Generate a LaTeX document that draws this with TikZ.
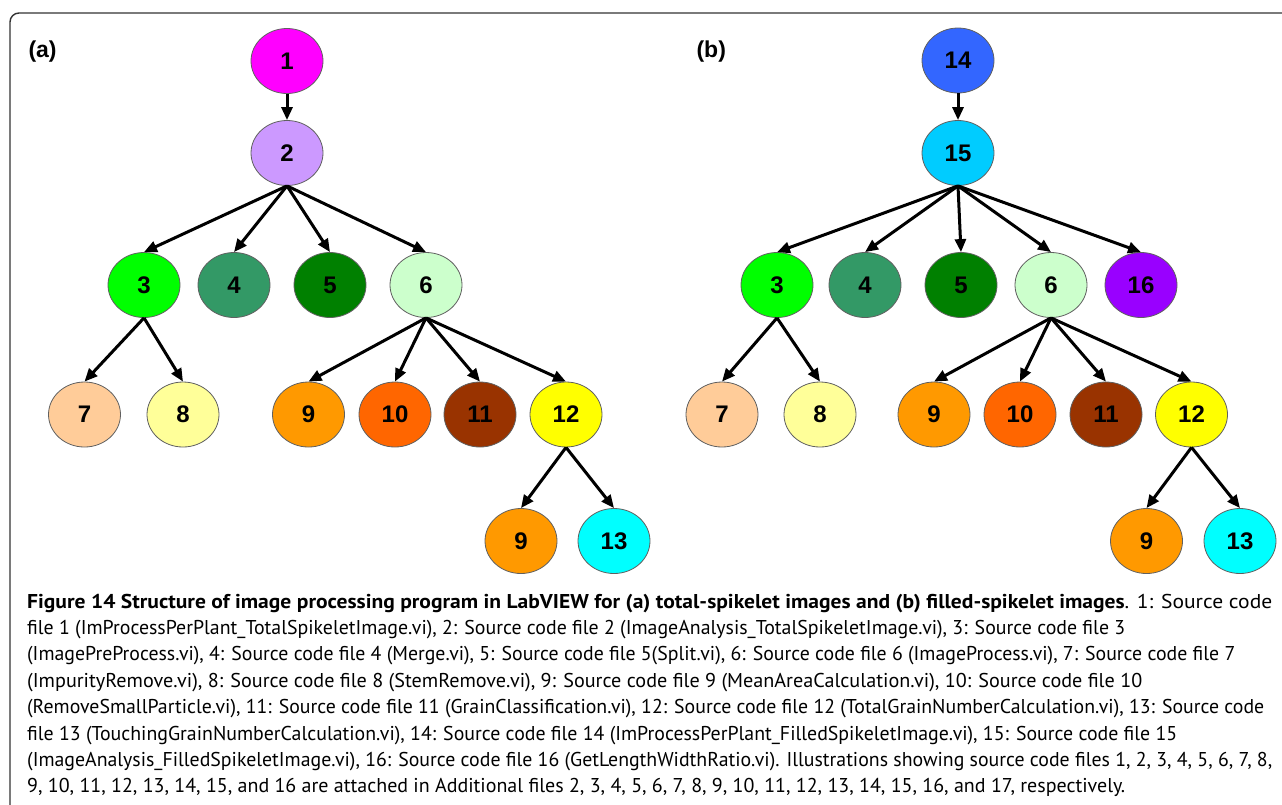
\documentclass[tikz,border=0pt]{standalone}
\usepackage{graphicx}
\usepackage{fontspec}
\setmainfont{Liberation Sans}
\newfontfamily\capfont{PT Sans}
\usetikzlibrary{arrows.meta,shapes.geometric}
\definecolor{c1}{HTML}{FF00FF}
\definecolor{c2}{HTML}{CC99FF}
\definecolor{c3}{HTML}{00FF00}
\definecolor{c4}{HTML}{339966}
\definecolor{c5}{HTML}{008000}
\definecolor{c6}{HTML}{CCFFCC}
\definecolor{c7}{HTML}{FFCC99}
\definecolor{c8}{HTML}{FFFF99}
\definecolor{c9}{HTML}{FF9900}
\definecolor{c10}{HTML}{FF6600}
\definecolor{c11}{HTML}{993300}
\definecolor{c12}{HTML}{FFFF00}
\definecolor{c13}{HTML}{00FFFF}
\definecolor{c14}{HTML}{3366FF}
\definecolor{c15}{HTML}{00CCFF}
\definecolor{c16}{HTML}{9900FF}
\definecolor{framegray}{HTML}{333333}
\definecolor{nodeedge}{HTML}{606060}
\newcommand{\capfit}[2]{\resizebox{#1pt}{\height}{#2}}
\begin{document}
\begin{tikzpicture}[x=1pt,y=-1pt,
  bubble/.style={ellipse,draw=nodeedge,line width=0.8pt,minimum width=72pt,minimum height=65pt,inner sep=0pt,
    font=\fontsize{24}{24}\selectfont\bfseries},
  link/.style={line width=3pt,-{Triangle[length=13pt,width=11pt]}},
  panel/.style={font=\fontsize{23}{23}\selectfont\bfseries,anchor=west},
  capline/.style={anchor=base west,inner sep=0pt,font=\capfont\fontsize{20}{20}\selectfont}]
\useasboundingbox (0,0) rectangle (1282,804);
\draw[draw=framegray,line width=1.4pt,rounded corners=9pt] (10,815) -- (10,13) -- (1295,13);
% panel (a)
\node[panel] (la) at (25,52) {(a)};
\node[bubble,fill=c1] (a1) at (287,61) {1};
\node[bubble,fill=c2] (a2) at (287,153) {2};
\node[bubble,fill=c3] (a3) at (144,285) {3};
\node[bubble,fill=c4] (a4) at (234,285) {4};
\node[bubble,fill=c5] (a5) at (330,285) {5};
\node[bubble,fill=c6] (a6) at (426,285) {6};
\node[bubble,fill=c7] (a7) at (84.5,414.5) {7};
\node[bubble,fill=c8] (a8) at (183,414.5) {8};
\node[bubble,fill=c9] (a9) at (308.5,414.5) {9};
\node[bubble,fill=c10] (a10) at (395,414.5) {10};
\node[bubble,fill=c11] (a11) at (480,414.5) {11};
\node[bubble,fill=c12] (a12) at (566,414.5) {12};
\node[bubble,fill=c9] (a9b) at (521,541) {9};
\node[bubble,fill=c13] (a13) at (614,541) {13};
\foreach \p/\c in {a1/a2,a2/a3,a2/a4,a2/a5,a2/a6,a3/a7,a3/a8,a6/a9,a6/a10,a6/a11,a6/a12,a12/a9b,a12/a13}
  \draw[link] (\p.south) -- (\c.north);
% panel (b)
\node[panel] (lb) at (693,52) {(b)};
\node[bubble,fill=c14] (b14) at (958,60.5) {14};
\node[bubble,fill=c15] (b15) at (958,153) {15};
\node[bubble,fill=c3] (b3) at (777,285) {3};
\node[bubble,fill=c4] (b4) at (865,285) {4};
\node[bubble,fill=c5] (b5) at (961,285) {5};
\node[bubble,fill=c6] (b6) at (1051,285) {6};
\node[bubble,fill=c16] (b16) at (1141,285) {16};
\node[bubble,fill=c7] (b7) at (722,414.5) {7};
\node[bubble,fill=c8] (b8) at (820,414.5) {8};
\node[bubble,fill=c9] (b9) at (934,414.5) {9};
\node[bubble,fill=c10] (b10) at (1020,414.5) {10};
\node[bubble,fill=c11] (b11) at (1106,414.5) {11};
\node[bubble,fill=c12] (b12) at (1191.5,414.5) {12};
\node[bubble,fill=c9] (b9b) at (1146.5,541) {9};
\node[bubble,fill=c13] (b13) at (1240,541) {13};
\foreach \p/\c in {b14/b15,b15/b3,b15/b4,b15/b5,b15/b6,b15/b16,b3/b7,b3/b8,b6/b9,b6/b10,b6/b11,b6/b12,b12/b9b,b12/b13}
  \draw[link] (\p.south) -- (\c.north);
% caption
\node[capline] (cap1) at (27,608) {\capfit{1245}{\textbf{Figure 14 Structure of image processing program in LabVIEW for (a) total-spikelet images and (b) filled-spikelet images}. 1: Source code}};
\node[capline] (cap2) at (27,634.4) {\capfit{1098}{file 1 (ImProcessPerPlant\_TotalSpikeletImage.vi), 2: Source code file 2 (ImageAnalysis\_TotalSpikeletImage.vi), 3: Source code file 3}};
\node[capline] (cap3) at (27,660.8) {\capfit{1208}{(ImagePreProcess.vi), 4: Source code file 4 (Merge.vi), 5: Source code file 5(Split.vi), 6: Source code file 6 (ImageProcess.vi), 7: Source code file 7}};
\node[capline] (cap4) at (27,687.2) {\capfit{1115}{(ImpurityRemove.vi), 8: Source code file 8 (StemRemove.vi), 9: Source code file 9 (MeanAreaCalculation.vi), 10: Source code file 10}};
\node[capline] (cap5) at (27,713.6) {\capfit{1237}{(RemoveSmallParticle.vi), 11: Source code file 11 (GrainClassification.vi), 12: Source code file 12 (TotalGrainNumberCalculation.vi), 13: Source code}};
\node[capline] (cap6) at (27,740) {\capfit{1150}{file 13 (TouchingGrainNumberCalculation.vi), 14: Source code file 14 (ImProcessPerPlant\_FilledSpikeletImage.vi), 15: Source code file 15}};
\node[capline] (cap7) at (27,766.4) {\capfit{1245}{(ImageAnalysis\_FilledSpikeletImage.vi), 16: Source code file 16 (GetLengthWidthRatio.vi). Illustrations showing source code files 1, 2, 3, 4, 5, 6, 7, 8,}};
\node[capline] (cap8) at (27,792.8) {\capfit{1098}{9, 10, 11, 12, 13, 14, 15, and 16 are attached in Additional files 2, 3, 4, 5, 6, 7, 8, 9, 10, 11, 12, 13, 14, 15, 16, and 17, respectively.}};
\end{tikzpicture}
\end{document}
